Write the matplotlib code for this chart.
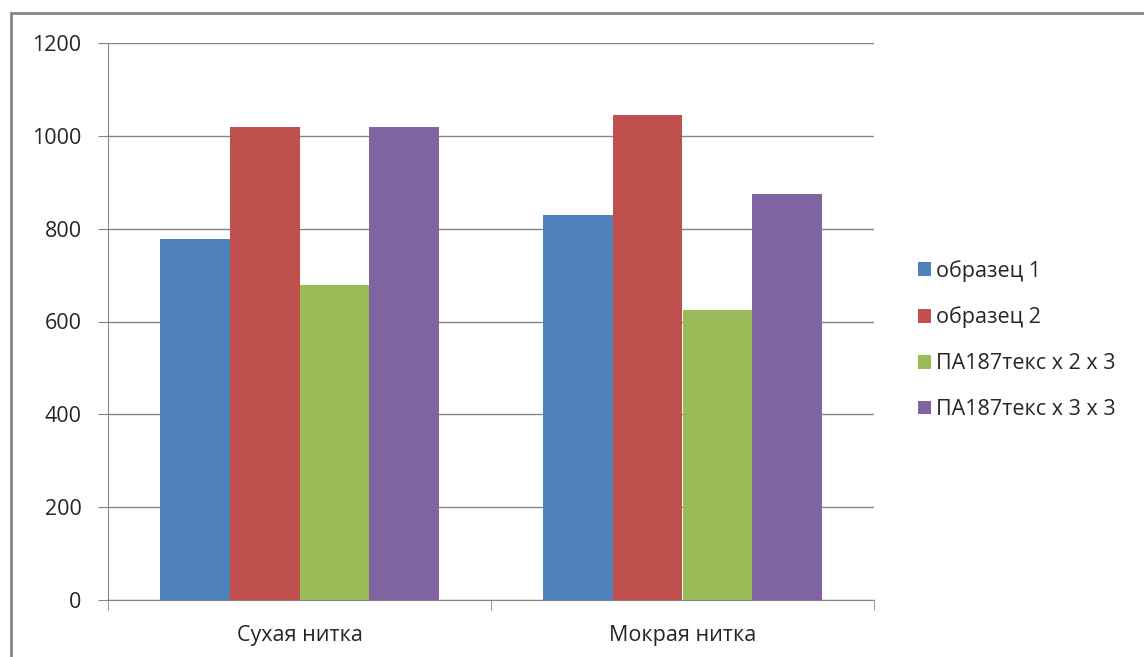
import numpy as np
import matplotlib.pyplot as plt
from matplotlib.patches import Rectangle

categories = ['Сухая нитка', 'Мокрая нитка']
series_names = ['образец 1', 'образец 2', 'ПА187текс х 2 х 3', 'ПА187текс х 3 х 3']
values = [
    [778, 830],    # образец 1
    [1020, 1045],  # образец 2
    [678, 625],    # ПА187текс х 2 х 3
    [1020, 875],   # ПА187текс х 3 х 3
]
colors = ['#4f81bd', '#c0504d', '#9bbb59', '#8064a2']
yticks = [0, 200, 400, 600, 800, 1000, 1200]

plt.rcParams['font.family'] = ['Open Sans', 'DejaVu Sans']
grey = '#868686'
txt = '#262626'
fs = 15.5

fig = plt.figure(figsize=(11.44, 6.57), dpi=100)
ax = fig.add_axes([108 / 1144, 1 - 600 / 657, (874 - 108) / 1144, (600 - 43) / 657])

# outer chart border (top and left visible, rest cut off)
fig.patches.append(Rectangle((11 / 1144, -0.1), 1.2, 1 - 13 / 657 + 0.1,
                             transform=fig.transFigure, fill=False,
                             edgecolor=grey, linewidth=2))

x = np.arange(len(categories))
w = 1 / 5.5
for i, (name, vals) in enumerate(zip(series_names, values)):
    ax.bar(x + (i - 1.5) * w, vals, w, color=colors[i], label=name, zorder=3)

ax.set_xlim(-0.5, len(categories) - 0.5)
ax.set_ylim(0, 1200)
ax.set_yticks(yticks)
ax.yaxis.grid(True, color=grey, linewidth=1, zorder=0)

ax.set_xticks(x)
ax.set_xticklabels(categories, fontsize=fs, color=txt)
ax.set_xticks(np.arange(-0.5, len(categories)), minor=True)
ax.tick_params(axis='x', which='major', length=0, pad=18)
ax.tick_params(axis='x', which='minor', length=7, color=grey, direction='out')
ax.tick_params(axis='y', length=7, color=grey, labelsize=fs, labelcolor=txt, pad=12)

for s in ['top', 'right']:
    ax.spines[s].set_visible(False)
for s in ['left', 'bottom']:
    ax.spines[s].set_color(grey)

leg = ax.legend(loc='center left', bbox_to_anchor=(899 / 1144, 1 - 340 / 657),
                bbox_transform=fig.transFigure, frameon=False, fontsize=fs,
                handlelength=0.6, handleheight=0.6, handletextpad=0.2,
                labelspacing=1.15)
for t in leg.get_texts():
    t.set_color(txt)

fig.savefig('out.png', dpi=100)
